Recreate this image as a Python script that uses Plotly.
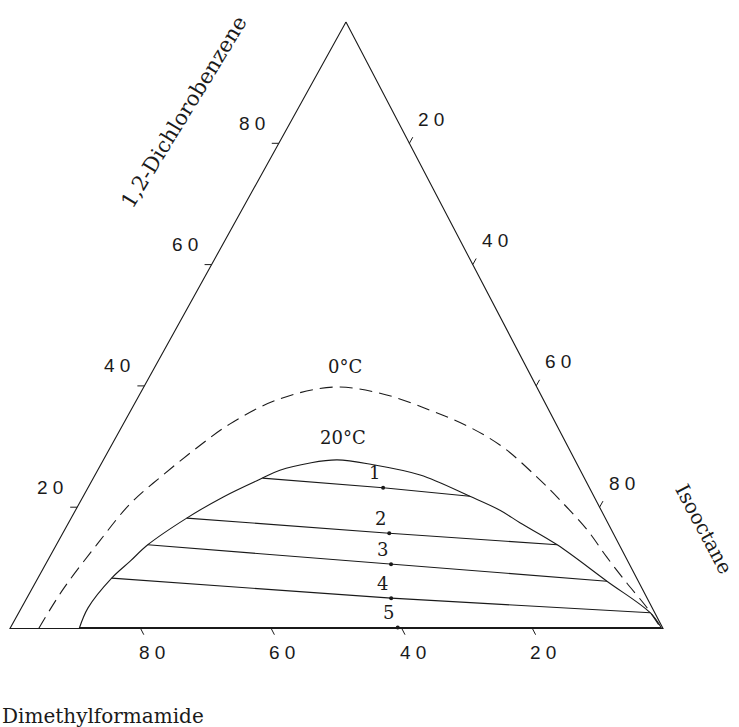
import plotly.graph_objects as go

# ---------------- data (mass %, D = 1,2-dichlorobenzene, I = isooctane, DMF = 100 - D - I)
bin20_D = [0, 3.4, 8.3, 11.1, 13.8, 18.2, 21.7, 24.8, 26.1, 27.3, 27.8, 27.0, 25.3, 21.8, 19.5, 17.4, 13.8, 7.8, 2.6, 0]
bin20_I = [10.6, 10.2, 11.3, 12.7, 14.0, 17.7, 21.5, 25.9, 27.9, 31.9, 35.8, 41.7, 49.8, 59.2, 65.0, 69.2, 76.7, 87.4, 96.7, 99.8]

bin0_D = [0, 6.4, 13.9, 20.5, 25.3, 29.8, 33.7, 37.7, 39.8, 38.8, 36.0, 33.2, 29.9, 25.0, 21.2, 16.2, 11.8, 7.5, 3.5, 0.2]
bin0_I = [4.4, 4.8, 6.2, 7.8, 10.4, 13.3, 16.3, 21.5, 29.0, 36.7, 45.8, 53.3, 60.1, 67.8, 73.3, 80.1, 85.3, 90.6, 95.7, 99.5]

tie_names = ["1", "2", "3", "4", "5"]
tie_left_D = [24.8, 18.2, 13.8, 8.3, 0.15]
tie_left_I = [25.9, 17.7, 14.0, 11.3, 10.6]
tie_mid_D = [23.2, 15.7, 10.6, 5.0, 0.15]
tie_mid_I = [45.2, 50.0, 52.9, 55.8, 59.3]
tie_right_D = [21.8, 13.8, 7.8, 2.6, 0.15]
tie_right_I = [59.2, 76.7, 87.4, 96.7, 99.6]

tick_values = [20, 40, 60, 80]

# ---------------- geometry of the drawing
W, H = 739, 727
X0, XW = 10.0, 653.0      # base left pixel, base width
Y0, YH = 628.5, 606.5     # base pixel row, triangle height
APEX_X = 0.5145           # apex position along the base (fraction)


def to_xy(D, I):
    return I / 100.0 + APEX_X * D / 100.0, D / 100.0


def pdx(px):
    return px / XW


def pdy(py):
    return -py / YH


def paper(px, py):
    return px / W, 1 - py / H


INK = "#1a1a1a"
fig = go.Figure()

# triangle frame
fx, fy = [], []
for d, i in [(100, 0), (0, 0), (0, 100), (100, 0)]:
    x, y = to_xy(d, i)
    fx.append(x)
    fy.append(y)
fig.add_trace(go.Scatter(x=fx, y=fy, mode="lines", line=dict(color=INK, width=1.1),
                         hoverinfo="skip", showlegend=False))

# ticks
tx, ty = [], []
ann = []
tick_font = dict(family="Liberation Sans", size=19, color=INK)
for v in tick_values:
    label = " ".join(str(v))
    # left edge: dichlorobenzene
    x, y = to_xy(v, 0)
    tx += [x, x + pdx(-7), None]
    ty += [y, y, None]
    ann.append(dict(x=x, y=y, xref="x", yref="y", text=label, showarrow=False,
                    xanchor="center", yanchor="middle",
                    xshift=-27, yshift=20, font=tick_font))
    # right edge: isooctane
    x, y = to_xy(100 - v, v)
    tx += [x, x + pdx(3.4), None]
    ty += [y, y + pdy(-6.1), None]
    ann.append(dict(x=x, y=y, xref="x", yref="y", text=label, showarrow=False,
                    xanchor="center", yanchor="middle",
                    xshift=22, yshift=24, font=tick_font))
    # base: dimethylformamide
    x, y = to_xy(0, 100 - v)
    tx += [x, x + pdx(3.2), None]
    ty += [y, y + pdy(6.2), None]
    ann.append(dict(x=x, y=y, xref="x", yref="y", text=label, showarrow=False,
                    xanchor="center", yanchor="middle",
                    xshift=11, yshift=-24, font=tick_font))
fig.add_trace(go.Scatter(x=tx, y=ty, mode="lines", line=dict(color=INK, width=1),
                         hoverinfo="skip", showlegend=False))

# binodal at 0 C (dashed)
b0 = [to_xy(d, i) for d, i in zip(bin0_D, bin0_I)]
fig.add_trace(go.Scatter(x=[p[0] for p in b0], y=[p[1] for p in b0], mode="lines",
                         line=dict(color=INK, width=1.1, dash="13px,7px", shape="spline", smoothing=1.0),
                         hoverinfo="skip", showlegend=False))

# binodal at 20 C (solid)
b20 = [to_xy(d, i) for d, i in zip(bin20_D, bin20_I)]
fig.add_trace(go.Scatter(x=[p[0] for p in b20], y=[p[1] for p in b20], mode="lines",
                         line=dict(color=INK, width=1.1, shape="spline", smoothing=1.0),
                         hoverinfo="skip", showlegend=False))

# tie lines
lx, ly, mx, my = [], [], [], []
for k in range(len(tie_names)):
    pts = [to_xy(tie_left_D[k], tie_left_I[k]), to_xy(tie_mid_D[k], tie_mid_I[k]),
           to_xy(tie_right_D[k], tie_right_I[k])]
    lx += [p[0] for p in pts] + [None]
    ly += [p[1] for p in pts] + [None]
    mx.append(pts[1][0])
    my.append(pts[1][1])
    ann.append(dict(x=pts[1][0], y=pts[1][1], xref="x", yref="y", text=tie_names[k],
                    showarrow=False, xanchor="center", yanchor="middle",
                    xshift=-9, yshift=15,
                    font=dict(family="DejaVu Serif", size=18, color=INK)))
fig.add_trace(go.Scatter(x=lx, y=ly, mode="lines", line=dict(color=INK, width=1.1),
                         hoverinfo="skip", showlegend=False))
fig.add_trace(go.Scatter(x=mx, y=my, mode="markers", marker=dict(color=INK, size=4),
                         hoverinfo="skip", showlegend=False))

# text labels
serif = dict(family="DejaVu Serif", size=21, color=INK)


def text_at(px, py, text, font, angle=0, xanchor="center"):
    x, y = paper(px, py)
    ann.append(dict(x=x, y=y, xref="paper", yref="paper", text=text, showarrow=False,
                    xanchor=xanchor, yanchor="middle", textangle=angle, font=font))


text_at(345, 366, "0°C", dict(family="DejaVu Serif", size=18, color=INK))
text_at(343, 437, "20°C", dict(family="DejaVu Serif", size=18, color=INK))
text_at(184, 112, "1,2-Dichlorobenzene", serif, angle=-58.5)
text_at(704, 529, "Isooctane", dict(family="DejaVu Serif", size=20, color=INK), angle=62)
text_at(0, 716, "Dimethylformamide", dict(family="DejaVu Serif", size=20, color=INK), xanchor="left")

fig.update_layout(
    width=W, height=H, autosize=False,
    margin=dict(l=0, r=0, t=0, b=0),
    paper_bgcolor="white", plot_bgcolor="white",
    xaxis=dict(range=[-X0 / XW, (W - X0) / XW], visible=False, fixedrange=True),
    yaxis=dict(range=[-(H - Y0) / YH, Y0 / YH], visible=False, fixedrange=True),
    annotations=ann,
    showlegend=False,
)

fig.write_html("out.html", config={"displayModeBar": False},
               post_script="document.body.style.margin='0';")
